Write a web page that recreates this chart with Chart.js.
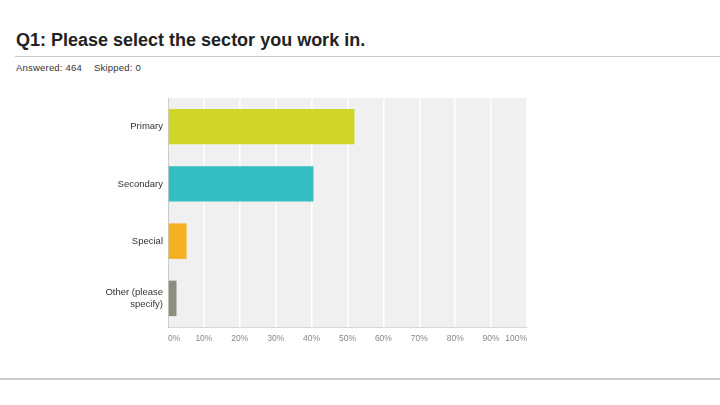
<!DOCTYPE html>
<html>
<head>
<meta charset="utf-8">
<script src="https://cdn.jsdelivr.net/npm/chart.js@4"></script>
<style>
  body { margin: 0; width: 720px; height: 405px; background: #fff; position: relative; overflow: hidden; font-family: "Liberation Sans", Arial, sans-serif; }
  #titulo { position: absolute; left: 16px; top: 30px; font-size: 18px; font-weight: bold; color: #222; }
  #linea1 { position: absolute; left: 15px; right: 0; top: 56px; height: 1px; background: #ccc; }
  #info { position: absolute; left: 16px; top: 62px; font-size: 9.5px; color: #333; letter-spacing: 0.2px; }
  #info span { margin-right: 12px; }
  #linea2 { position: absolute; left: 0; right: 0; top: 378px; height: 2px; background: #ccc; }
  #contenedor { position: absolute; left: 0; top: 90px; width: 540px; height: 262px; }
</style>
</head>
<body>
<div id="titulo">Q1: Please select the sector you work in.</div>
<div id="linea1"></div>
<div id="info"><span>Answered: 464</span>Skipped: 0</div>
<div id="contenedor"><canvas id="myChart"></canvas></div>
<div id="linea2"></div>
<script>
const categorias = ['Primary', 'Secondary', 'Special', ['Other (please', 'specify)']];
const porcentajes = [51.94, 40.52, 5.17, 2.37];
const colores = ['#d0d52a', '#35bec1', '#f5af23', '#8e8e80'];
const ticksX = [0, 10, 20, 30, 40, 50, 60, 70, 80, 90, 100];

const fondoGris = {
    id: 'fondoGris',
    beforeDraw(chart) {
        const { ctx, chartArea } = chart;
        ctx.save();
        ctx.fillStyle = '#f0f0f0';
        ctx.fillRect(chartArea.left, chartArea.top, chartArea.right - chartArea.left, chartArea.bottom - chartArea.top);
        ctx.restore();
    }
};

const ctx = document.getElementById('myChart').getContext('2d');
new Chart(ctx, {
    type: 'bar',
    data: {
        labels: categorias,
        datasets: [{
            data: porcentajes,
            backgroundColor: colores,
            borderWidth: 0,
            barPercentage: 0.62,
            categoryPercentage: 1
        }]
    },
    options: {
        indexAxis: 'y',
        responsive: true,
        maintainAspectRatio: false,
        animation: false,
        layout: { padding: { top: 8, right: 13, bottom: 0, left: 0 } },
        plugins: {
            legend: { display: false },
            tooltip: { enabled: false }
        },
        scales: {
            x: {
                min: 0,
                max: 100,
                afterBuildTicks: (scale) => {
                    scale.ticks = ticksX.map(v => ({ value: v }));
                },
                afterFit: (scale) => { scale.height = 25; },
                ticks: {
                    color: '#888',
                    font: { size: 8.5, family: 'Liberation Sans, Arial' },
                    padding: 7,
                    align: 'inner',
                    maxRotation: 0,
                    autoSkip: false,
                    callback: (v) => v + '%'
                },
                grid: { color: '#ffffff', lineWidth: 1.5, drawTicks: false },
                border: { display: true, color: '#d8d8d8', width: 1 }
            },
            y: {
                afterFit: (scale) => {
                    scale.width = 168;
                    scale.paddingTop = 0;
                    scale.paddingBottom = 0;
                },
                ticks: {
                    color: '#333',
                    font: { size: 9.5, family: 'Liberation Sans, Arial' },
                    padding: 5
                },
                grid: { display: false, drawTicks: false },
                border: { display: true, color: '#cccccc', width: 1 }
            }
        }
    },
    plugins: [fondoGris]
});
</script>
</body>
</html>
